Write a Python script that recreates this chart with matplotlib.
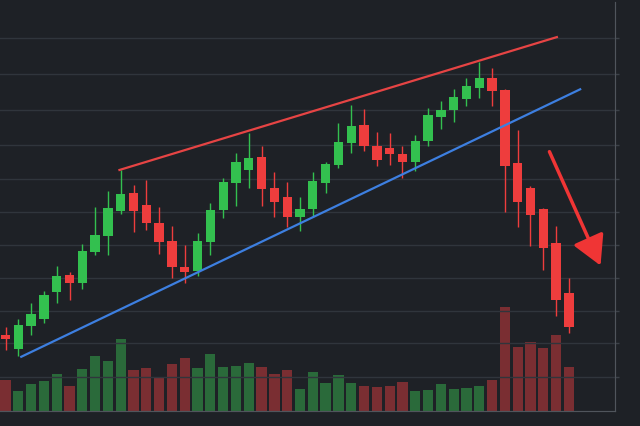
import numpy as np
import matplotlib
matplotlib.use("Agg")
import matplotlib.pyplot as plt
from matplotlib.patches import FancyArrowPatch

# OHLC + volume, one entry per session (first one is cut off at the left edge)
opens = [23.2, 22.5, 18.3, 25.2, 27.1, 35.2, 40.1, 37.7, 46.8, 51.5,
         59.1, 64.3, 60.7, 55.4, 50.2, 42.6, 41.2, 49.8, 59.4, 67.4,
         71.1, 75.0, 65.8, 63.2, 57.2, 59.6, 67.3, 72.6, 79.0, 84.4,
         78.3, 77.5, 75.8, 73.5, 79.6, 86.7, 88.9, 91.9, 95.3, 98.1,
         94.8, 73.1, 65.7, 59.6, 49.6, 34.8]
highs = [23.9, 24.9, 27.1, 31.9, 35.5, 42.7, 40.9, 49.2, 60.3, 64.9,
         71.2, 66.7, 68.1, 60.3, 54.5, 49.0, 52.5, 61.4, 68.6, 76.0,
         81.9, 78.1, 70.6, 67.5, 63.2, 70.6, 73.4, 85.0, 90.4, 89.1,
         82.2, 82.1, 78.3, 81.3, 89.5, 91.4, 94.9, 98.3, 103.0, 101.1,
         95.0, 82.9, 66.5, 59.8, 54.5, 39.2]
lows = [21.8, 18.1, 16.1, 22.5, 26.0, 31.8, 32.8, 36.0, 46.0, 46.1,
        58.0, 52.9, 53.4, 46.3, 39.1, 37.7, 39.7, 46.0, 56.8, 60.6,
        65.7, 60.4, 57.1, 54.2, 53.2, 57.1, 64.2, 71.7, 76.0, 76.8,
        72.2, 72.5, 68.6, 70.7, 78.3, 83.2, 85.3, 89.9, 92.3, 89.9,
        58.6, 54.2, 48.8, 41.7, 28.1, 22.9]
closes = [22.5, 21.2, 25.3, 28.5, 34.3, 39.9, 37.8, 47.3, 51.8, 59.9,
          64.1, 59.1, 55.5, 49.9, 42.6, 41.1, 50.2, 59.3, 67.5, 73.5,
          74.6, 65.4, 61.6, 57.2, 59.6, 67.9, 72.8, 79.4, 84.2, 78.3,
          74.0, 75.7, 73.4, 79.6, 87.2, 88.8, 92.5, 95.8, 98.1, 94.4,
          72.4, 61.6, 57.8, 48.2, 32.8, 24.9]
volumes = [200, 307, 197, 274, 300, 370, 254, 424, 547, 497,
           720, 407, 434, 340, 467, 534, 427, 574, 444, 450,
           484, 437, 367, 410, 224, 390, 284, 364, 277, 250,
           240, 250, 290, 200, 207, 267, 220, 227, 254, 314,
           1044, 640, 687, 627, 764, 437]

# rising wedge lines and the breakdown arrow (session index, price)
upper_x = [9.9, 44.06]
upper_y = [71.1, 110.3]
lower_x = [2.23, 45.88]
lower_y = [16.0, 94.9]
arrow_start = (43.48, 76.5)
arrow_end = (47.47, 42.9)

BG = "#1e2126"
GRID = "#30353c"
UP = "#33c04f"
DOWN = "#ee3d3d"
UP_VOL = "#2a6a3a"
DOWN_VOL = "#7a2e32"

o = np.array(opens)
h = np.array(highs)
l = np.array(lows)
c = np.array(closes)
x = np.arange(len(o))
up = c >= o

fig = plt.figure(figsize=(6.4, 4.27), dpi=100, facecolor=BG)
ax_vol = fig.add_axes([0, 15 / 427, 615 / 640, 409 / 427])
ax = ax_vol.twinx()
ax_vol.set_facecolor(BG)
ax_vol.set_zorder(1)
ax.set_zorder(2)
ax.patch.set_visible(False)

# volume
ax_vol.bar(x, volumes, width=0.8, color=np.where(up, UP_VOL, DOWN_VOL), zorder=2)
ax_vol.set_ylim(0, 4090)
ax_vol.set_yticks([])

# candles
cols = np.where(up, UP, DOWN)
ax.vlines(x, l, h, colors=cols, lw=1.0, zorder=3)
ax.bar(x, np.maximum(np.abs(c - o), 0.4), bottom=np.minimum(o, c),
       width=0.73, color=cols, zorder=4)

ax.plot(upper_x, upper_y, color="#e64444", lw=1.6, zorder=5)
ax.plot(lower_x, lower_y, color="#3d7fe0", lw=1.6, zorder=5)
ax.add_patch(FancyArrowPatch(arrow_start, arrow_end,
                             arrowstyle="-|>,head_length=0.9,head_width=0.5",
                             mutation_scale=20, lw=2.5, color="#f03535",
                             shrinkA=0, shrinkB=0, zorder=6))

ax.set_xlim(0.57, 48.6)
ax.set_ylim(0, 120.65)
ax.set_xticks([7.05, 14.63, 20.73, 28.2, 33.9, 39.3, 44.1])
ax.set_yticks([10.1, 20.0, 29.6, 39.3, 49.0, 58.7, 68.5, 78.4, 88.8, 99.4, 110.1])
ax.grid(True, color=GRID, lw=1.0, zorder=0)
ax.tick_params(axis="both", colors="#3c4148", length=3, width=1.0,
               labelbottom=False, labelright=False, labelleft=False)
ax.yaxis.tick_right()

for a in (ax, ax_vol):
    a.spines["top"].set_visible(False)
    a.spines["left"].set_visible(False)
    a.spines["bottom"].set_color("#50555c")
    a.spines["right"].set_color("#50555c")
ax_vol.tick_params(axis="x", length=0, labelbottom=False)

fig.savefig("out.png", dpi=100, facecolor=BG)
